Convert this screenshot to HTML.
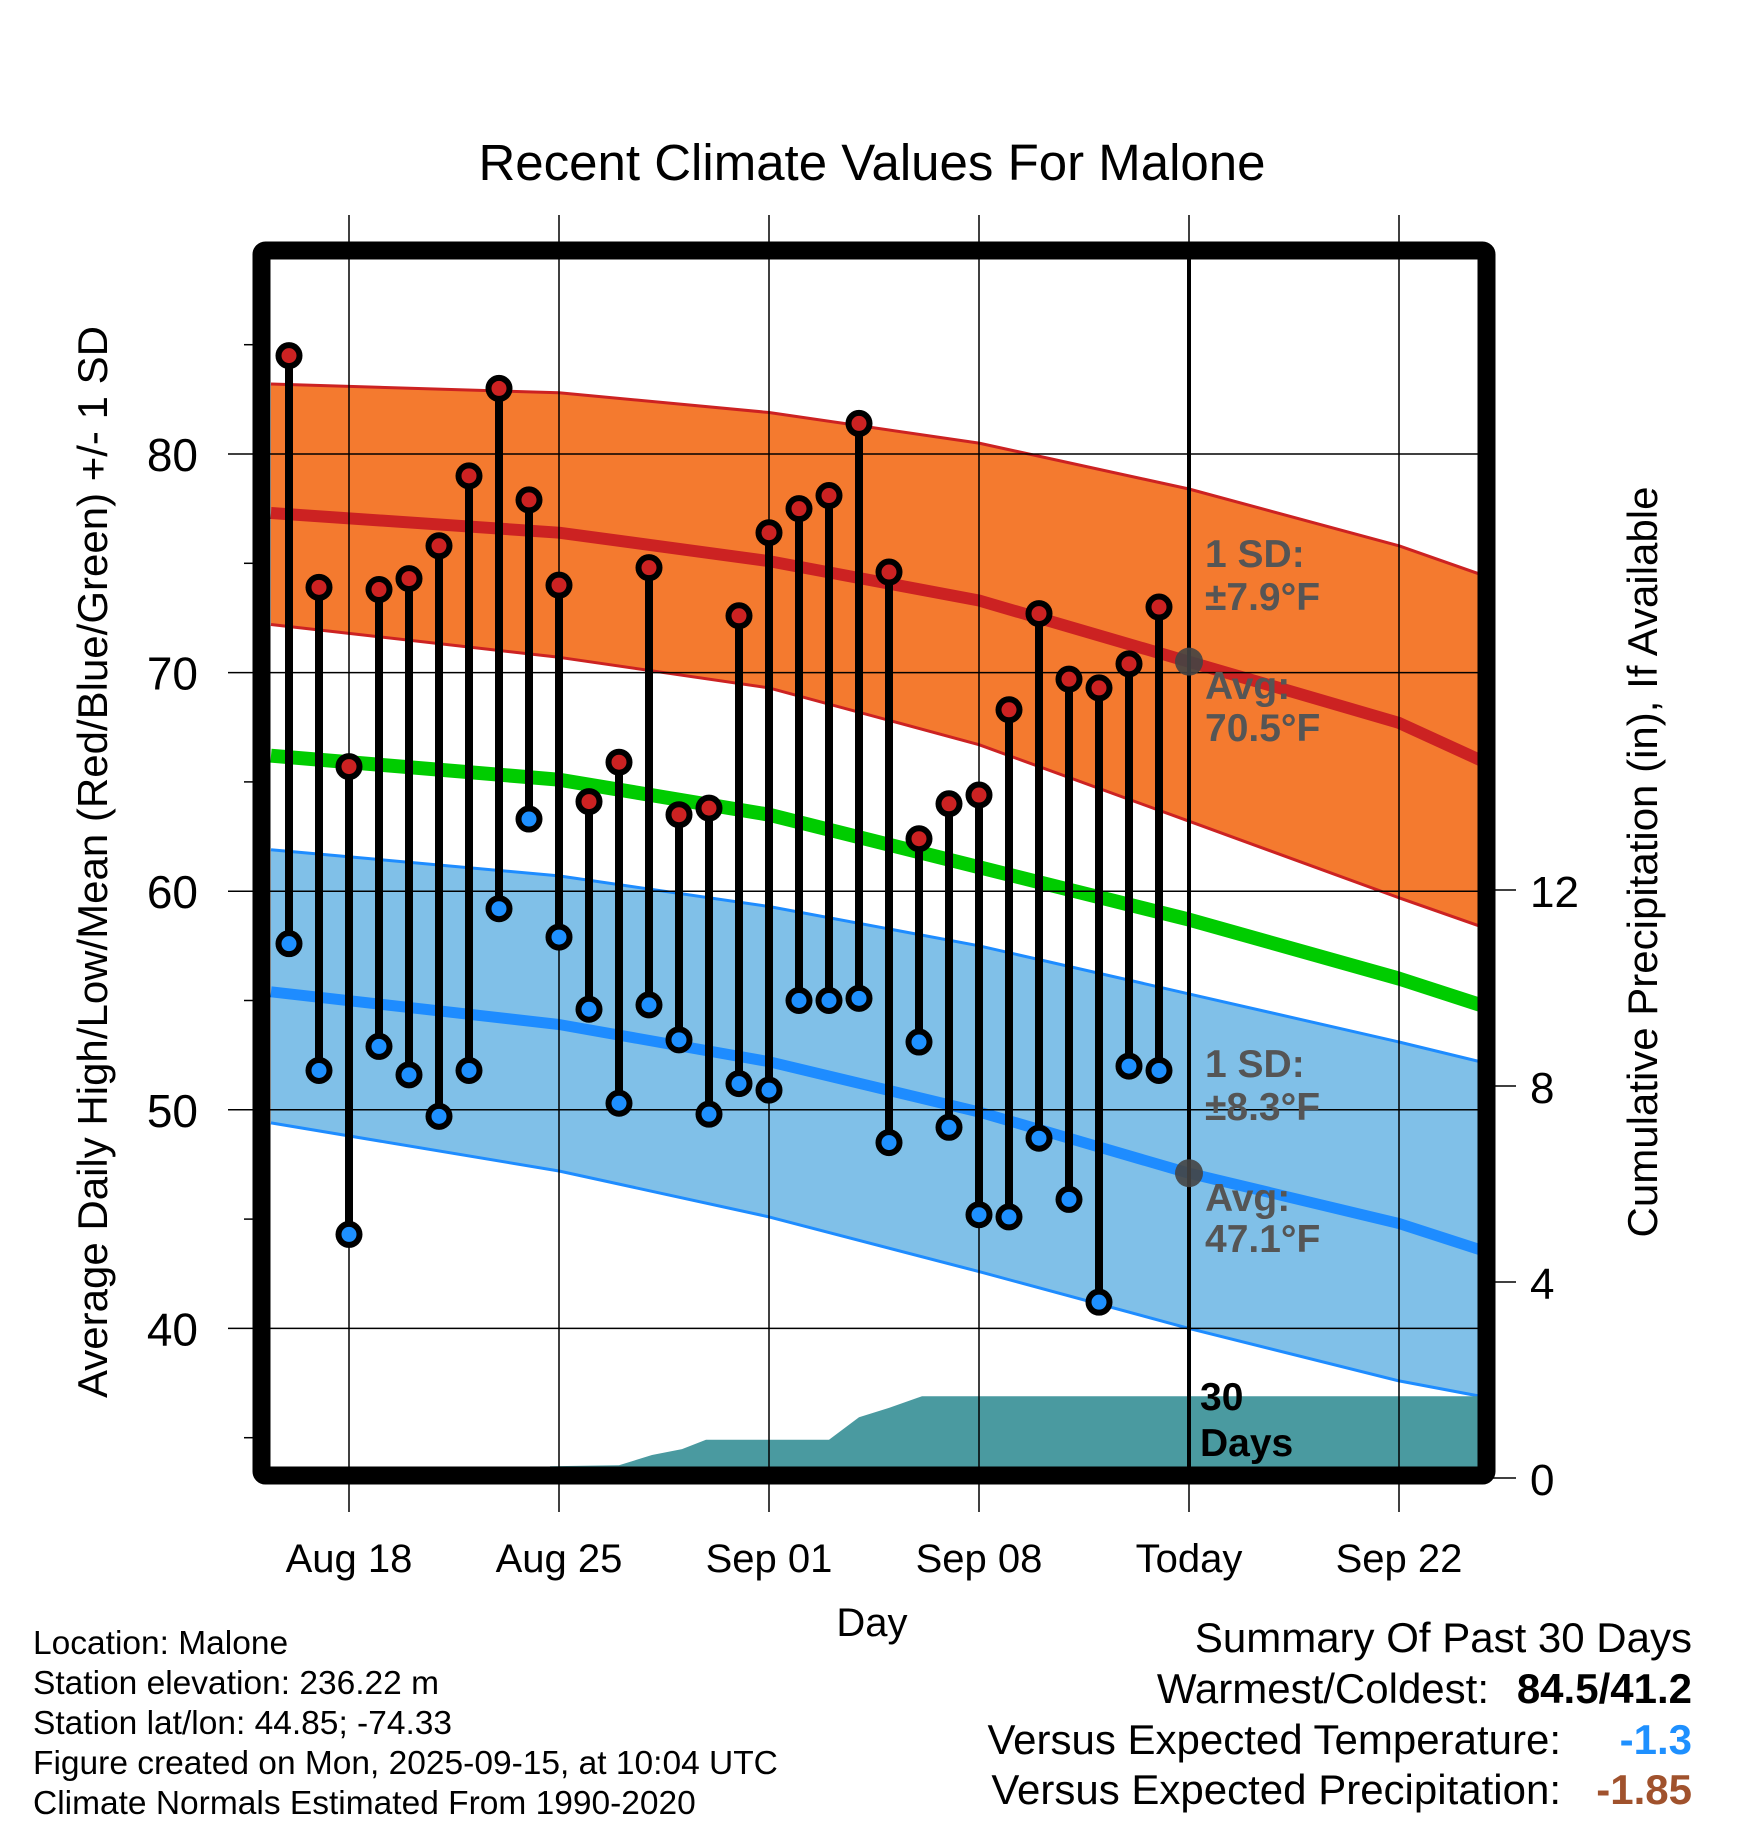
<!DOCTYPE html>
<html><head><meta charset="utf-8"><style>
html,body{margin:0;padding:0;background:#fff;}
svg{display:block;font-family:"Liberation Sans",Arial,sans-serif;}
</style></head><body>
<svg id="chart" width="1748" height="1828" viewBox="0 0 1748 1828" xmlns="http://www.w3.org/2000/svg">
<defs><clipPath id="plotclip"><rect x="270" y="259" width="1208" height="1209"/></clipPath></defs>
<text x="872" y="180" font-size="51" text-anchor="middle">Recent Climate Values For Malone</text>
<g id="plot" clip-path="url(#plotclip)"></g>
<g id="over"></g>
<text transform="translate(107,862) rotate(-90)" font-size="42" text-anchor="middle">Average Daily High/Low/Mean (Red/Blue/Green) +/- 1 SD</text>
<text transform="translate(1657,862) rotate(-90)" font-size="42" text-anchor="middle">Cumulative Precipitation (in), If Available</text>
<text x="872" y="1636" font-size="40" text-anchor="middle">Day</text>
<g font-size="33.5">
<text x="33" y="1654">Location: Malone</text>
<text x="33" y="1694">Station elevation: 236.22 m</text>
<text x="33" y="1734">Station lat/lon: 44.85; -74.33</text>
<text x="33" y="1774">Figure created on Mon, 2025-09-15, at 10:04 UTC</text>
<text x="33" y="1814">Climate Normals Estimated From 1990-2020</text>
</g>
<g font-size="42" text-anchor="end">
<text x="1692" y="1652">Summary Of Past 30 Days</text>
<text x="1489" y="1703">Warmest/Coldest:</text>
<text x="1692" y="1703" font-weight="bold">84.5/41.2</text>
<text x="1561" y="1754">Versus Expected Temperature:</text>
<text x="1692" y="1754" font-weight="bold" fill="#1e90ff">-1.3</text>
<text x="1561" y="1804">Versus Expected Precipitation:</text>
<text x="1692" y="1804" font-weight="bold" fill="#a0522d">-1.85</text>
</g>
</svg>
<script>
// ---- data ----
const normDays = [-30.6, -21, -14, -7, 0, 7, 9.7];
const highUpper = [83.2, 82.8, 81.9, 80.5, 78.4, 75.8, 74.5];
const highAvg = [77.3, 76.4, 75.1, 73.3, 70.5, 67.7, 66.0];
const highLower = [72.2, 70.7, 69.3, 66.7, 63.2, 59.7, 58.4];
const meanAvg = [66.2, 65.1, 63.5, 61.1, 58.7, 56.0, 54.8];
const lowUpper = [61.9, 60.7, 59.3, 57.5, 55.3, 53.1, 52.2];
const lowAvg = [55.4, 53.9, 52.2, 49.9, 47.1, 44.8, 43.6];
const lowLower = [49.4, 47.2, 45.1, 42.6, 40.0, 37.6, 36.9];
const obsHigh = [84.5,73.9,65.7,73.8,74.3,75.8,79.0,83.0,77.9,74.0,64.1,65.9,74.8,63.5,63.8,72.6,76.4,77.5,78.1,81.4,74.6,62.4,64.0,64.4,68.3,72.7,69.7,69.3,70.4,73.0];
const obsLow = [57.6,51.8,44.3,52.9,51.6,49.7,51.8,59.2,63.3,57.9,54.6,50.3,54.8,53.2,49.8,51.2,50.9,55.0,55.0,55.1,48.5,53.1,49.2,45.2,45.1,48.7,45.9,41.2,52.0,51.8];
const precipDays = [-30.6,-21.4,-21.3,-19,-17.9,-16.9,-16.1,-12,-11,-10,-8.9,-8.1,9.7];
const precipVals = [0,0,0.24,0.26,0.47,0.59,0.78,0.78,1.24,1.43,1.67,1.67,1.67];
const xTickDays = [-28,-21,-14,-7,0,7];
const xTickLabels = ["Aug 18","Aug 25","Sep 01","Sep 08","Today","Sep 22"];
const yTicks = [40,50,60,70,80];
const yMinor = [35,45,55,65,75,85];
const pTicks = [0,4,8,12];

// ---- axes ----
const X = d => 1189 + d*30;
const Y = v => 454 + (80 - v)*21.86;
const P = v => 1478 - v*49;
const NS = "http://www.w3.org/2000/svg";
const plot = document.getElementById('plot');
const over = document.getElementById('over');
function mk(tag, attrs, parent){const e=document.createElementNS(NS,tag);for(const k in attrs)e.setAttribute(k,attrs[k]);parent.appendChild(e);return e;}
function pts(days, vals, f){return days.map((d,i)=>X(d).toFixed(1)+','+f(vals[i]).toFixed(1));}
function band(up, lo, fill, name){
  const p = pts(normDays, up, Y).concat(pts(normDays, lo, Y).reverse());
  const e = mk('polygon',{points:p.join(' '),fill:fill},plot);
  
  
}
function line(vals, color, w, name){
  const e = mk('polyline',{points:pts(normDays, vals, Y).join(' '),fill:'none',stroke:color,'stroke-width':w,'stroke-linejoin':'round'},plot);
  
  
}
band(highUpper, highLower, '#f47a2f', 'high-sd-band');
band(lowUpper, lowLower, '#80c0e8', 'low-sd-band');
line(highUpper,'#cc2222',3,'high-upper-sd-line');
line(highLower,'#cc2222',3,'high-lower-sd-line');
line(lowUpper,'#1e8cff',3,'low-upper-sd-line');
line(lowLower,'#1e8cff',3,'low-lower-sd-line');
line(highAvg,'#cc2222',12,'avg-high-line');
line(meanAvg,'#00cc00',14,'avg-mean-line');
line(lowAvg,'#1e8cff',11,'avg-low-line');
// precip
{
  const p = pts(precipDays, precipVals, P);
  p.push(X(precipDays[precipDays.length-1]).toFixed(1)+','+P(0));
  p.unshift(X(precipDays[0]).toFixed(1)+','+P(0));
  const e = mk('polygon',{points:p.join(' '),fill:'#4a9aa0'},plot);
  
  
}
// gridlines
xTickDays.forEach((d,i)=>{
  const g = mk('line',{x1:X(d),x2:X(d),y1:215,y2:1512,stroke:'#000','stroke-width':1.5},over);
  
  
  const t = mk('text',{x:X(d),y:1572,'font-size':40,'text-anchor':'middle'},over);
  t.textContent = xTickLabels[i];
  
  
});
yTicks.forEach(v=>{
  const g = mk('line',{x1:228,x2:1478,y1:Y(v),y2:Y(v),stroke:'#000','stroke-width':1.5},over);
  
  
  const t = mk('text',{x:198,y:Y(v)+17,'font-size':46,'text-anchor':'end'},over);
  t.textContent = v;
  
  
});
yMinor.forEach(v=>{
  const g = mk('line',{x1:244,x2:255,y1:Y(v),y2:Y(v),stroke:'#000','stroke-width':1.5},over);
  
  
});
pTicks.forEach(v=>{
  const g = mk('line',{x1:1490,x2:1516,y1:P(v),y2:P(v),stroke:'#000','stroke-width':1.5},over);
  
  
  const t = mk('text',{x:1530,y:P(v)+17,'font-size':44},over);
  t.textContent = v;
  
  
});
// today line
{
  const e = mk('line',{x1:X(0),x2:X(0),y1:259,y2:1468,stroke:'#000','stroke-width':4},over);
  
  
}
// stems and dots
obsHigh.forEach((h,i)=>{
  const d = i - 30, l = obsLow[i];
  const s = mk('line',{x1:X(d),x2:X(d),y1:Y(h),y2:Y(l),stroke:'#000','stroke-width':8},over);
  
  
  const c1 = mk('circle',{cx:X(d),cy:Y(h),r:10.5,fill:'#cc2222',stroke:'#000','stroke-width':6},over);
  
  
  const c2 = mk('circle',{cx:X(d),cy:Y(l),r:10.5,fill:'#1e90ff',stroke:'#000','stroke-width':6},over);
  
  
});
// today avg markers
[[highAvg,'today-avg-high-marker'],[lowAvg,'today-avg-low-marker']].forEach(([arr,n])=>{
  const c = mk('circle',{cx:X(0),cy:Y(arr[4]),r:14,fill:'#444','fill-opacity':0.9},over);
  
  
});
// annotations
function ann(txt,x,y,color,name,size){
  const t = mk('text',{x:x,y:y,'font-size':size||39,'font-weight':'bold',fill:color},over);
  t.textContent = txt;
  
  
  return t;
}
ann('1 SD:',1205,567,'#555','high-sd-label');
ann('±7.9°F',1205,610,'#555','high-sd-value');
ann('Avg:',1205,699,'#555','high-avg-label');
ann('70.5°F',1205,741,'#555','high-avg-value');
ann('1 SD:',1205,1077,'#555','low-sd-label');
ann('±8.3°F',1205,1120,'#555','low-sd-value');
ann('Avg:',1205,1211,'#555','low-avg-label');
ann('47.1°F',1205,1252,'#555','low-avg-value');
ann('30',1200,1410,'#000','precip-days-label');
ann('Days',1200,1456,'#000','precip-days-label-2');
// frame
{
  const f = mk('rect',{x:261.5,y:250.5,width:1225,height:1225,rx:4,fill:'none',stroke:'#000','stroke-width':18},over);
  
  
}
</script>
</body></html>
